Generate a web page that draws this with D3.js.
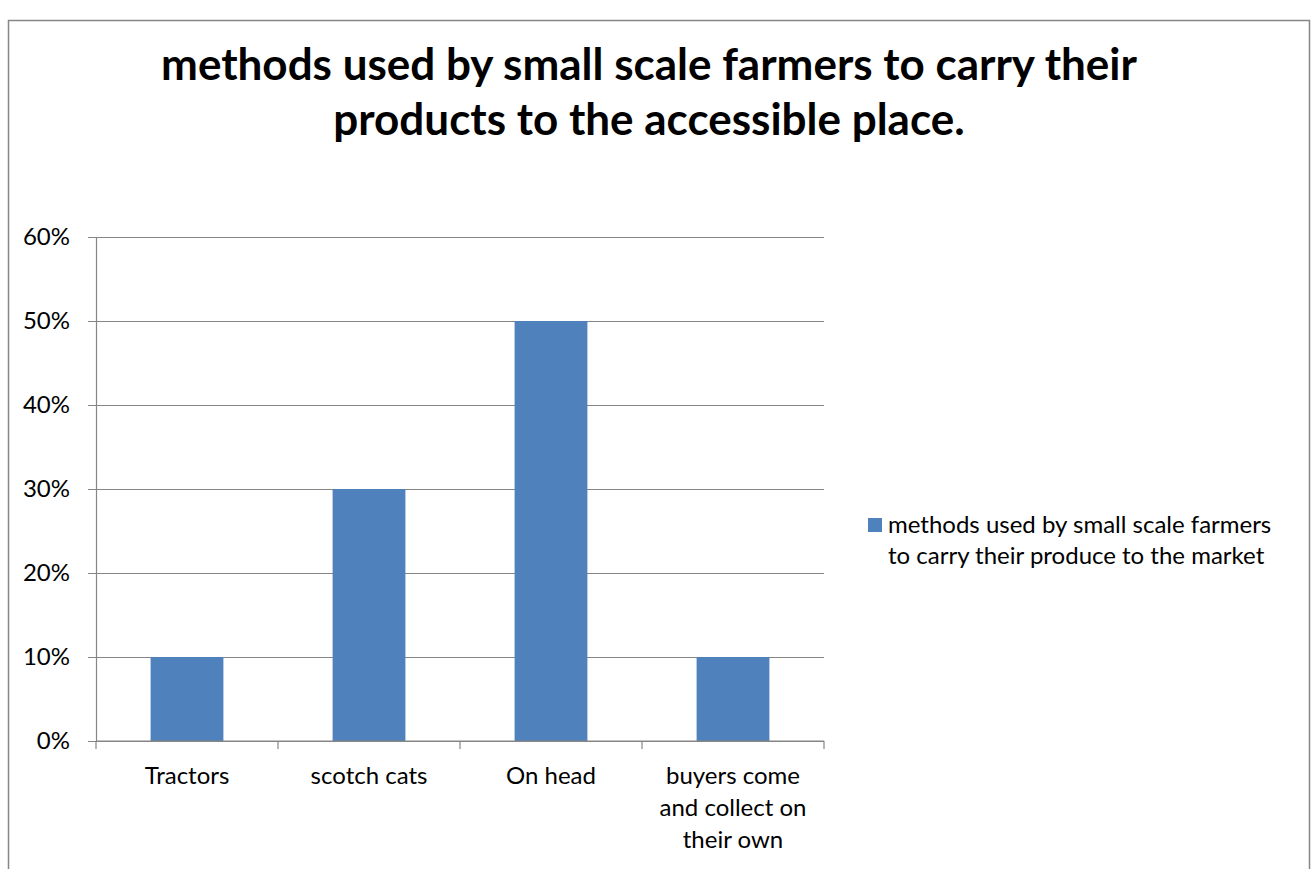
<!DOCTYPE html>
<html>
<head>
<meta charset="utf-8">
<script src="https://cdn.jsdelivr.net/npm/d3@7"></script>
<style>
  html, body { margin: 0; padding: 0; background: #fff; }
  svg { display: block; }
  text { font-family: Lato, "Open Sans", sans-serif; fill: #000; }
</style>
</head>
<body>
<svg id="chart" width="1314" height="869"></svg>
<script>
// Chart data
const categories = ["Tractors", "scotch cats", "On head", "buyers come and collect on their own"];
const values = [0.10, 0.30, 0.50, 0.10];
const yTicks = [0, 0.1, 0.2, 0.3, 0.4, 0.5, 0.6];
const titleLines = ["methods used by small scale farmers to carry their", "products to the accessible place."];
const legendLines = ["methods used by small scale farmers", "to carry their produce to the market"];

const svg = d3.select("#chart");
const W = 1314, H = 869;
const barColor = "#4F81BD";
const axisColor = "#868686";
const fontSize = 24;

// Chart frame (open at the bottom edge of the page)
svg.append("path")
  .attr("d", `M8.5,${H} V20.5 H1309.5 V${H}`)
  .attr("fill", "none")
  .attr("stroke", axisColor)
  .attr("stroke-width", 1.5);

// Title
const title = svg.append("text")
  .attr("text-anchor", "middle")
  .attr("font-weight", "bold")
  .attr("font-size", 44);
titleLines.forEach((t, i) => {
  title.append("tspan").attr("x", 649).attr("y", 80 + i * 55).text(t);
});

// Plot area
const plot = { left: 96, right: 824, top: 237, bottom: 741 };

const x = d3.scaleBand()
  .domain(categories)
  .range([plot.left, plot.right])
  .padding(0);

const y = d3.scaleLinear()
  .domain([0, 0.6])
  .range([plot.bottom, plot.top]);

// Y axis with horizontal gridlines
const yAxis = svg.append("g")
  .attr("transform", `translate(${plot.left},0)`)
  .call(d3.axisLeft(y)
    .tickValues(yTicks)
    .tickFormat(d3.format(".0%"))
    .tickSize(8)
    .tickPadding(18));
yAxis.select(".domain").attr("stroke", axisColor).attr("stroke-width", 1.2);
yAxis.selectAll(".tick line")
  .attr("x2", plot.right - plot.left)
  .attr("x1", -8)
  .attr("stroke", axisColor)
  .attr("stroke-width", 1.2);
yAxis.selectAll(".tick text")
  .attr("font-size", fontSize)
  .attr("font-family", "Lato, 'Open Sans', sans-serif")
  .attr("fill", "#000");

// Bars
svg.append("g")
  .selectAll("rect")
  .data(categories.map((c, i) => ({ c, v: values[i] })))
  .join("rect")
  .attr("x", d => x(d.c) + x.bandwidth() * 0.3)
  .attr("width", x.bandwidth() * 0.4)
  .attr("y", d => y(d.v))
  .attr("height", d => y(0) - y(d.v))
  .attr("fill", barColor);

// X axis: baseline, category boundary ticks, wrapped labels
const xAxis = svg.append("g")
  .attr("transform", `translate(0,${plot.bottom})`)
  .call(d3.axisBottom(x).tickSize(0).tickPadding(0));
xAxis.select(".domain").remove();
xAxis.insert("line", ":first-child")
  .attr("x1", plot.left).attr("x2", plot.right)
  .attr("stroke", axisColor).attr("stroke-width", 1.2);
const bounds = categories.map(c => x(c)).concat([x(categories[categories.length - 1]) + x.bandwidth()]);
xAxis.selectAll(".bound")
  .data(bounds)
  .join("line")
  .attr("class", "bound")
  .attr("x1", d => d).attr("x2", d => d)
  .attr("y1", 0).attr("y2", 8)
  .attr("stroke", axisColor).attr("stroke-width", 1.2);

xAxis.selectAll(".tick text")
  .attr("font-size", fontSize)
  .attr("font-family", "Lato, 'Open Sans', sans-serif")
  .attr("fill", "#000")
  .attr("dy", null)
  .attr("y", 0)
  .each(function (d) {
    const el = d3.select(this);
    const words = d.split(" ");
    const maxW = 165;
    const lines = [];
    let line = [];
    el.text(null);
    const probe = el.append("tspan");
    words.forEach(w => {
      line.push(w);
      probe.text(line.join(" "));
      if (probe.node().getComputedTextLength() > maxW && line.length > 1) {
        line.pop();
        lines.push(line.join(" "));
        line = [w];
      }
    });
    lines.push(line.join(" "));
    probe.remove();
    lines.forEach((l, i) => {
      el.append("tspan").attr("x", 0).attr("y", 43 + i * 32).text(l);
    });
  });

// Legend
const legend = svg.append("g");
legend.append("rect")
  .attr("x", 868).attr("y", 518)
  .attr("width", 14).attr("height", 14)
  .attr("fill", barColor);
const legText = legend.append("text").attr("font-size", fontSize);
legendLines.forEach((t, i) => {
  legText.append("tspan").attr("x", 888).attr("y", 533 + i * 31).text(t);
});
</script>
</body>
</html>
